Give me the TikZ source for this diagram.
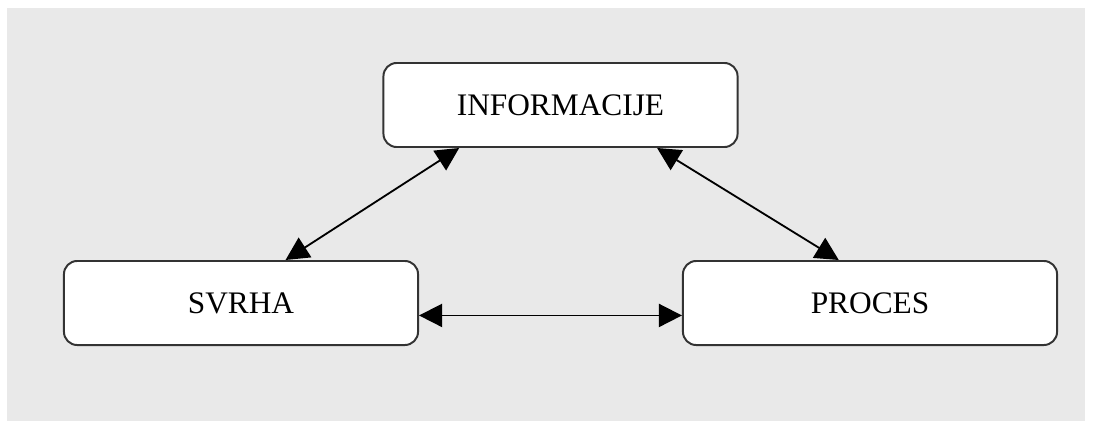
\documentclass[tikz,border=0pt]{standalone}
\usepackage{fontspec}
\setmainfont{Liberation Serif}
\usetikzlibrary{arrows.meta}
\definecolor{mygray}{RGB}{233, 233, 233}
\definecolor{myborder}{RGB}{51, 51, 51}
\tikzset{>={Triangle[length=0.58cm, width=0.58cm]}}
\tikzset{box/.style={draw = myborder, line width = 1.4pt, fill = white, rounded corners = 0.33cm, minimum width = 8.85cm, minimum height = 2.1cm, inner sep = 0pt, font = \fontsize{22.3}{26}\selectfont}}

\begin{document}
\begin{tikzpicture}[x = 0.025cm, y = -0.025cm]
\useasboundingbox (0, 0) rectangle (1095, 421);
\fill[mygray] (7, 8) rectangle (1085, 421);

\node[box] (info) at (560.5, 105) {INFORMACIJE};
\node[box] (svrha) at (241, 303) {SVRHA};
\node[box, minimum width = 9.35cm] (proces) at (870, 303) {PROCES};

\draw[<->, line width = 1.3pt] (info.203.6) -- (svrha.44.3);
\draw[<->, line width = 1.3pt] (info.336.6) -- (proces.126.7);
\draw[<->, line width = 1.3pt] (svrha.-4.5) -- (svrha.-4.5 -| proces.west);
\end{tikzpicture}
\end{document}
